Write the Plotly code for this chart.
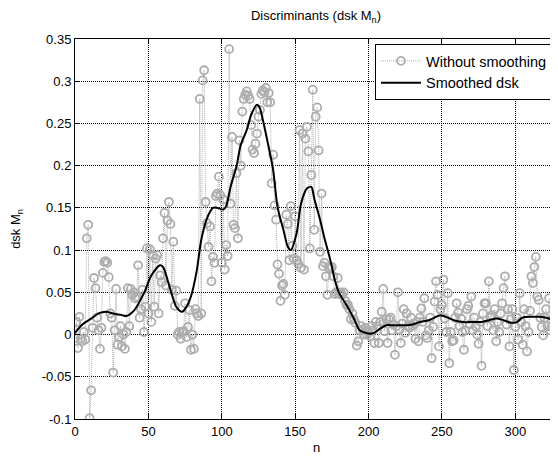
import plotly.graph_objects as go

# raw discriminant values, n = 0..329
raw_vals = [
    -0.004, 0.015, -0.016, 0.021, -0.005, -0.008, 0.003, -0.006, 0.114, 0.130,
    -0.099, -0.066, 0.008, 0.067, 0.055, 0.020, 0.005, -0.017, 0.008, 0.073,
    0.086, 0.087, 0.085, 0.068, 0.025, 0.020, -0.045, 0.005, 0.054, -0.012,
    -0.003, 0.010, -0.014, 0.000, -0.017, 0.003, 0.055, 0.010, 0.054, 0.047,
    0.050, 0.043, 0.045, 0.082, 0.020, 0.030, 0.053, 0.003, 0.033, 0.102,
    0.025, 0.101, 0.015, 0.094, 0.033, 0.090, 0.094, 0.025, 0.070, 0.062,
    0.114, 0.144, 0.058, 0.135, 0.157, 0.131, 0.053, 0.110, 0.034, 0.052,
    0.000, 0.003, -0.005, 0.003, 0.004, 0.037, -0.003, 0.009, 0.029, -0.018,
    0.000, -0.017, 0.030, 0.025, 0.022, 0.279, 0.025, 0.301, 0.313, 0.157,
    0.132, 0.104, 0.128, 0.063, 0.092, 0.085, 0.164, 0.167, 0.187, 0.165,
    0.085, 0.160, 0.077, 0.106, 0.093, 0.338, 0.155, 0.234, 0.130, 0.126,
    0.191, 0.114, 0.230, 0.200, 0.264, 0.279, 0.284, 0.288, 0.283, 0.279,
    0.248, 0.219, 0.215, 0.226, 0.238, 0.258, 0.266, 0.285, 0.289, 0.287,
    0.292, 0.275, 0.286, 0.275, 0.179, 0.213, 0.153, 0.136, 0.083, 0.072,
    0.040, 0.058, 0.060, 0.047, 0.142, 0.131, 0.088, 0.152, 0.105, 0.090,
    0.140, 0.088, 0.084, 0.242, 0.079, 0.238, 0.077, 0.232, 0.246, 0.217,
    0.102, 0.189, 0.290, 0.124, 0.258, 0.269, 0.218, 0.098, 0.167, 0.081,
    0.085, 0.069, 0.047, 0.080, 0.078, 0.080, 0.069, 0.048, 0.050, 0.067,
    0.048, 0.050, 0.047, 0.050, 0.040, 0.035, 0.035, 0.030, 0.018, 0.025,
    0.018, 0.014, -0.013, -0.008, 0.005, 0.010, 0.006, 0.000, 0.008, 0.000,
    0.003, -0.002, 0.010, 0.005, -0.010, 0.015, 0.010, -0.010, 0.015, 0.027,
    0.054, 0.004, 0.018, -0.010, 0.018, 0.020, 0.005, 0.012, -0.024, 0.010,
    0.050, 0.006, -0.010, 0.013, 0.030, 0.002, 0.025, 0.010, 0.008, 0.020,
    0.010, 0.013, -0.005, 0.015, -0.008, 0.020, 0.031, 0.015, 0.043, -0.001,
    -0.004, 0.005, 0.020, -0.028, 0.009, 0.039, 0.063, 0.047, -0.014, 0.030,
    0.035, 0.065, 0.019, 0.003, 0.049, -0.034, 0.003, -0.008, -0.007, 0.020,
    0.037, 0.026, 0.010, 0.019, 0.003, -0.018, 0.005, 0.030, 0.034, 0.012,
    0.045, 0.005, 0.020, 0.010, 0.000, -0.011, 0.015, -0.037, 0.025, 0.037,
    0.037, 0.010, 0.063, 0.020, 0.023, 0.005, 0.030, -0.008, 0.015, 0.003,
    0.025, 0.037, 0.055, 0.069, 0.012, 0.030, -0.014, 0.018, 0.030, -0.042,
    0.009, 0.020, -0.006, 0.049, 0.015, -0.012, 0.030, 0.010, -0.020, 0.003,
    0.028, 0.069, 0.061, 0.080, 0.092, 0.045, 0.041, 0.020, 0.009, -0.001,
    0.020, 0.030, 0.010, 0.043, 0.005, 0.009, 0.020, 0.015, 0.025, 0.012,
]
raw_n = list(range(len(raw_vals)))

# smoothed curve
smooth_n = [0, 5, 12, 16, 21, 26, 32, 35, 40, 47, 52, 58, 60, 65, 69, 73, 76, 79,
            83, 86, 90, 94, 97, 101, 103, 106, 110, 113, 117, 120, 124, 126, 128,
            131, 135, 138, 142, 145, 147, 151, 154, 158, 161, 163, 167, 170, 174,
            177, 180, 185, 190, 194, 199, 203, 208, 212, 217, 224, 230, 235, 241,
            249, 254, 260, 266, 271, 277, 282, 287, 292, 297, 301, 305, 311, 317,
            323, 329]
smooth_vals = [0.002, 0.012, 0.020, 0.025, 0.027, 0.025, 0.023, 0.022, 0.028, 0.049,
               0.070, 0.082, 0.080, 0.053, 0.033, 0.027, 0.033, 0.045, 0.076, 0.112,
               0.138, 0.150, 0.150, 0.148, 0.152, 0.175, 0.199, 0.225, 0.242, 0.260,
               0.272, 0.268, 0.254, 0.230, 0.195, 0.151, 0.124, 0.104, 0.100, 0.120,
               0.155, 0.173, 0.175, 0.161, 0.136, 0.114, 0.088, 0.065, 0.049, 0.035,
               0.019, 0.005, 0.0015, 0.0015, 0.007, 0.011, 0.011, 0.011, 0.012, 0.015,
               0.017, 0.023, 0.020, 0.016, 0.0145, 0.015, 0.015, 0.017, 0.019, 0.017,
               0.014, 0.0147, 0.020, 0.021, 0.021, 0.019, 0.0135]

x_ticks = [0, 50, 100, 150, 200, 250, 300]
y_ticks = [-0.1, -0.05, 0, 0.05, 0.1, 0.15, 0.2, 0.25, 0.3, 0.35]
y_labels = ['-0.1', '-0.05', '0', '0.05', '0.1', '0.15', '0.2', '0.25', '0.3', '0.35']

font = 'Liberation Sans, Arial, Helvetica, sans-serif'
gray = '#adadad'

fig = go.Figure()
fig.add_trace(go.Scatter(
    x=raw_n, y=raw_vals, mode='lines+markers', name='Without smoothing',
    line=dict(color=gray, width=1, dash='1px,1px'),
    marker=dict(symbol='circle-open', size=8, color=gray, line=dict(width=1.8, color=gray)),
))
fig.add_trace(go.Scatter(
    x=smooth_n, y=smooth_vals, mode='lines', name='Smoothed dsk',
    line=dict(color='black', width=2, shape='spline', smoothing=0.8),
))

axis_common = dict(
    showline=True, linecolor='black', linewidth=1, mirror='allticks',
    ticks='inside', ticklen=5, tickcolor='black', automargin=False,
    showgrid=True, gridcolor='#000000', griddash='1px,1px', gridwidth=1,
    zeroline=False, tickfont=dict(size=13, color='black'),
)

fig.update_xaxes(range=[0, 329.1], tickvals=x_ticks,
                 title=dict(text='n', font=dict(size=13, color='black'), standoff=5),
                 **axis_common)
fig.update_yaxes(range=[-0.1, 0.35], tickvals=y_ticks, ticktext=y_labels,
                 title=dict(text='dsk M<sub>n</sub>', font=dict(size=13, color='black'), standoff=19),
                 **axis_common)

# page body adds an 8px offset, so the figure is 8px smaller than the window
fig.update_layout(
    width=550, height=449,
    margin=dict(l=67, r=0, t=31, b=38),
    paper_bgcolor='white', plot_bgcolor='white',
    font=dict(family=font, size=13, color='black'),
    title=dict(text='Discriminants (dsk M<sub>n</sub>)', x=0.56, xanchor='center',
               y=0.983, yanchor='middle', font=dict(size=13, color='black')),
    showlegend=True,
    legend=dict(x=0.9896, xanchor='right', y=0.987, yanchor='top',
                bgcolor='white', bordercolor='black', borderwidth=1,
                font=dict(size=14.5, color='black'), tracegroupgap=0,
                itemwidth=40),
)

fig.write_html('out.html')
